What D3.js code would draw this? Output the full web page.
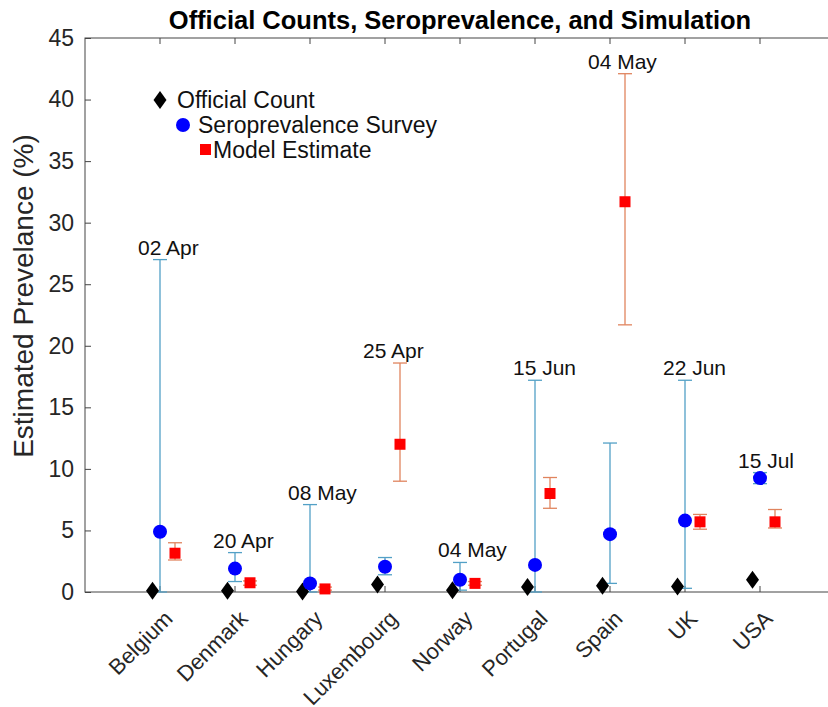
<!DOCTYPE html>
<html>
<head>
<meta charset="utf-8">
<script src="https://cdn.jsdelivr.net/npm/d3@7"></script>
<style>
  body { margin: 0; background: #fff; }
  text { font-family: "Liberation Sans", Arial, sans-serif; }
</style>
</head>
<body>
<script>
// data
var countries = ['Belgium', 'Denmark', 'Hungary', 'Luxembourg', 'Norway', 'Portugal', 'Spain', 'UK', 'USA'];
var official = [0.1, 0.1, 0.05, 0.6, 0.15, 0.4, 0.5, 0.45, 1.0];
var sero = [4.9, 1.9, 0.7, 2.05, 1.0, 2.2, 4.7, 5.8, 9.25];
var seroLo = [0, 0.85, 0, 1.4, 0.15, 0, 0.7, 0.3, 8.8];
var seroHi = [27.0, 3.2, 7.1, 2.8, 2.4, 17.2, 12.1, 17.2, 9.7];
var model = [3.15, 0.75, 0.25, 12.0, 0.7, 8.0, 31.7, 5.7, 5.7];
var modelLo = [2.6, 0.55, 0.15, 9.0, 0.55, 6.8, 21.7, 5.1, 5.2];
var modelHi = [4.0, 0.9, 0.4, 18.6, 0.85, 9.3, 42.1, 6.3, 6.7];
var dates = ['02 Apr', '20 Apr', '08 May', '25 Apr', '04 May', '15 Jun', '04 May', '22 Jun', '15 Jul'];
var yTicks = [0, 5, 10, 15, 20, 25, 30, 35, 40, 45];

(function() {
var svg_width = 828, svg_height = 707;
// plot box (right edge runs past the picture, as in the original)
var boxL = 85, boxR = 835, boxT = 38, boxB = 592;

var blueBar = '#52a0c6', redBar = '#e0845e', axisCol = '#444';

var svg = d3.select('body').append('svg')
  .attr('width', svg_width)
  .attr('height', svg_height);

// x is category index (1..9) on a 0..10 range
var x = d3.scaleLinear().domain([0, 10]).range([boxL, boxR]);
var y = d3.scaleLinear().domain([0, 45]).range([boxB, boxT]);

// title
svg.append('text')
  .attr('x', (boxL + boxR) / 2)
  .attr('y', 29)
  .attr('text-anchor', 'middle')
  .style('font-size', '25.5px')
  .style('font-weight', 'bold')
  .text('Official Counts, Seroprevalence, and Simulation');

// box
svg.append('rect')
  .attr('x', boxL).attr('y', boxT)
  .attr('width', boxR - boxL).attr('height', boxB - boxT)
  .attr('fill', 'none').attr('stroke', axisCol).attr('stroke-width', 1);

// y axis with inward ticks
var yAxis = d3.axisLeft(y).tickValues(yTicks).tickSize(-6).tickPadding(11);
var gy = svg.append('g').attr('transform', 'translate(' + boxL + ',0)').call(yAxis);
gy.select('.domain').remove();
gy.selectAll('line').attr('stroke', axisCol);
gy.selectAll('text').style('font-size', '23px').attr('fill', '#262626')
  .style('font-family', '"Liberation Sans", Arial, sans-serif');

// x ticks (top and bottom, inward)
var idx = d3.range(1, countries.length + 1);
svg.selectAll('.xtb').data(idx).enter().append('line')
  .attr('x1', function(d) { return x(d); }).attr('x2', function(d) { return x(d); })
  .attr('y1', boxB).attr('y2', boxB - 6).attr('stroke', axisCol);
svg.selectAll('.xtt').data(idx).enter().append('line')
  .attr('x1', function(d) { return x(d); }).attr('x2', function(d) { return x(d); })
  .attr('y1', boxT).attr('y2', boxT + 6).attr('stroke', axisCol);

// rotated country labels
svg.selectAll('.xlab').data(countries).enter().append('text')
  .attr('transform', function(d, i) { return 'translate(' + (x(i + 1) + 14) + ',620) rotate(-45)'; })
  .attr('text-anchor', 'end')
  .attr('fill', '#262626')
  .style('font-size', '22px')
  .text(function(d) { return d; });

// y label
svg.append('text')
  .attr('transform', 'translate(33,' + ((boxT + boxB) / 2 - 19) + ') rotate(-90)')
  .attr('text-anchor', 'middle')
  .attr('fill', '#262626')
  .style('font-size', '28px')
  .text('Estimated Prevelance (%)');

var cap = 7;
function errorBars(cls, off, lo, hi, col) {
  var g = svg.append('g').attr('class', cls);
  countries.forEach(function(c, i) {
    var cx = x(i + 1 + off);
    g.append('line').attr('x1', cx).attr('x2', cx).attr('y1', y(lo[i])).attr('y2', y(hi[i]))
      .attr('stroke', col).attr('stroke-width', 1.3);
    [lo[i], hi[i]].forEach(function(v) {
      g.append('line').attr('x1', cx - cap).attr('x2', cx + cap).attr('y1', y(v)).attr('y2', y(v))
        .attr('stroke', col).attr('stroke-width', 1.3);
    });
  });
}

errorBars('seroErr', 0, seroLo, seroHi, blueBar);
errorBars('modelErr', 0.2, modelLo, modelHi, redBar);

// official count diamonds
var diamond = function(cx, cy) {
  return 'M' + cx + ',' + (cy - 9) + 'L' + (cx + 6.5) + ',' + cy + 'L' + cx + ',' + (cy + 9) + 'L' + (cx - 6.5) + ',' + cy + 'Z';
};
svg.selectAll('.off').data(official).enter().append('path')
  .attr('d', function(d, i) { return diamond(x(i + 1 - 0.1), y(d)); })
  .attr('fill', '#000');

// seroprevalence circles
svg.selectAll('.sero').data(sero).enter().append('circle')
  .attr('cx', function(d, i) { return x(i + 1); })
  .attr('cy', function(d) { return y(d); })
  .attr('r', 7).attr('fill', '#0000ff');

// model squares
svg.selectAll('.model').data(model).enter().append('rect')
  .attr('x', function(d, i) { return x(i + 1.2) - 5.5; })
  .attr('y', function(d) { return y(d) - 5.5; })
  .attr('width', 11).attr('height', 11).attr('fill', '#ff0000');

// date labels above the highest whisker
svg.selectAll('.date').data(dates).enter().append('text')
  .attr('x', function(d, i) { return x(i + 1) - 22; })
  .attr('y', function(d, i) { return y(Math.max(seroHi[i], modelHi[i])) - 5; })
  .attr('fill', '#111')
  .style('font-size', '21px')
  .text(function(d) { return d; });

// legend
var lg = svg.append('g');
lg.append('path').attr('d', diamond(160, 100)).attr('fill', '#000');
lg.append('text').attr('x', 177).attr('y', 108).style('font-size', '23px').attr('fill', '#111').text('Official Count');
lg.append('circle').attr('cx', 183).attr('cy', 125).attr('r', 7).attr('fill', '#0000ff');
lg.append('text').attr('x', 198).attr('y', 133).style('font-size', '23px').attr('fill', '#111').text('Seroprevalence Survey');
lg.append('rect').attr('x', 200).attr('y', 144).attr('width', 11).attr('height', 11).attr('fill', '#ff0000');
lg.append('text').attr('x', 213).attr('y', 158).style('font-size', '23px').attr('fill', '#111').text('Model Estimate');
})();
</script>
</body>
</html>
